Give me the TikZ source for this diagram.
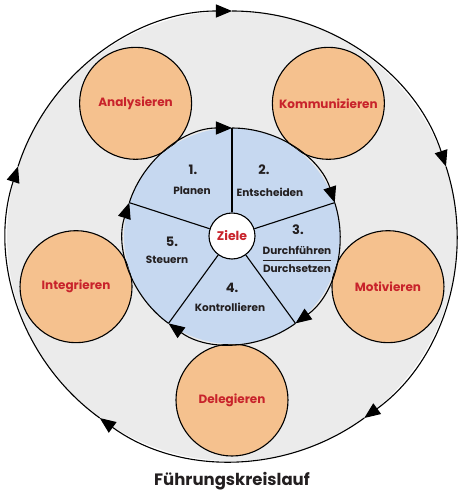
\documentclass[tikz,border=0pt]{standalone}
\usepackage{fontspec}
\setmainfont{Poppins}
\usepackage{xcolor}
\usetikzlibrary{arrows.meta}
\definecolor{kreisgrau}{HTML}{EBEBEB}
\definecolor{kreisblau}{HTML}{C6D8F0}
\definecolor{feldorange}{HTML}{F5C18E}
\definecolor{feldrot}{HTML}{C8232B}
\definecolor{textdunkel}{HTML}{231F20}

\begin{document}
\begin{tikzpicture}[
  x=1pt,y=1pt,
  line width=1.1pt,
  pfeil/.style={-{Triangle[length=16pt,width=13pt]}},
  feld/.style={circle,draw,fill=feldorange,minimum size=112pt,inner sep=0pt,
    text=feldrot,font=\bfseries\fontsize{12}{14}\selectfont},
  schritt/.style={align=center,text=textdunkel,font=\bfseries\fontsize{10.5}{13}\selectfont},
  nr/.style={text=textdunkel,font=\bfseries\fontsize{13}{15}\selectfont}]
\useasboundingbox (-232,-263) rectangle (231,236);
% aeusserer Kreislauf
\node[circle,fill=kreisgrau,minimum size=450pt,inner sep=0pt] (aussen) at (0,0) {};
\foreach \w/\n in {90/oa,18/ob,-54/oc,-126/od,162/oe} \coordinate (\n) at (\w:225);
\draw[pfeil] (oe) arc[start angle=162,end angle=90,radius=225];
\draw[pfeil] (oa) arc[start angle=90,end angle=18,radius=225];
\draw[pfeil] (ob) arc[start angle=18,end angle=-54,radius=225];
\draw[pfeil] (oc) arc[start angle=-54,end angle=-126,radius=225];
\draw[pfeil] (od) arc[start angle=-126,end angle=-198,radius=225];
% Fuehrungsaufgaben
\node[feld] (ana) at (126:164) {Analysieren};
\node[feld] (kom) at (54:164) {Kommunizieren};
\node[feld] (mot) at (-18:164) {Motivieren};
\node[feld] (del) at (-90:164) {Delegieren};
\node[feld] (int) at (198:164) {Integrieren};
% innerer Kreis
\node[circle,fill=kreisblau,minimum size=216pt,inner sep=0pt] (innen) at (0,0) {};
\foreach \w/\n in {90/a,18/b,-54/c,-126/d,162/e} \coordinate (\n) at (\w:108);
\node[circle,draw,fill=white,minimum size=46pt,inner sep=0pt,
  text=feldrot,font=\bfseries\fontsize{12.5}{15}\selectfont] (ziele) at (0,0) {Ziele};
\foreach \n in {a,b,c,d,e} \draw (ziele) -- (\n);
\draw[pfeil] (e) arc[start angle=162,end angle=90,radius=108];
\draw[pfeil] (a) arc[start angle=90,end angle=18,radius=108];
\draw[pfeil] (b) arc[start angle=18,end angle=-54,radius=108];
\draw[pfeil] (c) arc[start angle=-54,end angle=-126,radius=108];
\draw[pfeil] (d) arc[start angle=-126,end angle=-198,radius=108];
% Schritte
\node[nr] (n1) at (-39,66) {1.};
\node[schritt] (s1) at (-40,45) {Planen};
\node[nr] (n2) at (32,66) {2.};
\node[schritt] (s2) at (38,44) {Entscheiden};
\node[nr] (n3) at (66,6) {3.};
\node[schritt,inner sep=0pt] (s3) at (65,-25) {\setlength{\arrayrulewidth}{1pt}%
  \begin{tabular}{@{}c@{}}Durchführen\\[1pt]\hline\rule{0pt}{12pt}Durchsetzen\end{tabular}};
\node[nr] (n4) at (0,-52) {4.};
\node[schritt] (s4) at (-2,-71) {Kontrollieren};
\node[nr] (n5) at (-60,-6) {5.};
\node[schritt] (s5) at (-65,-24) {Steuern};
% Titel
\node[text=textdunkel,font=\bfseries\fontsize{16.5}{20}\selectfont] (titel) at (0,-245) {Führungskreislauf};
\end{tikzpicture}
\end{document}
